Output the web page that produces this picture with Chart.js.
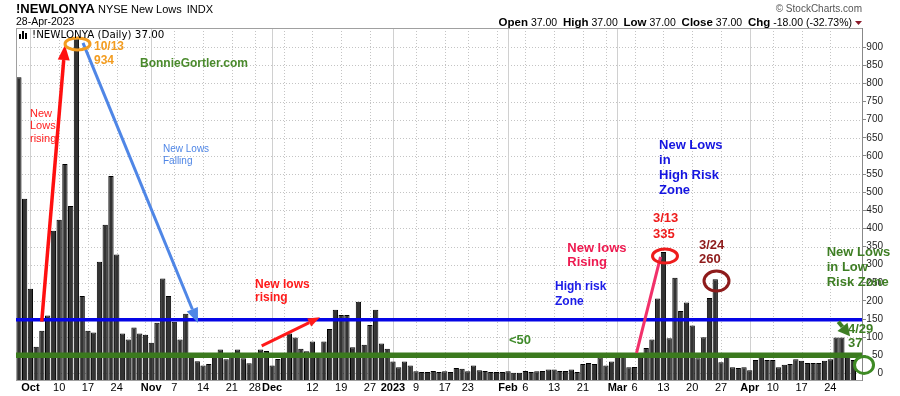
<!DOCTYPE html>
<html>
<head>
<meta charset="utf-8">
<title>!NEWLONYA NYSE New Lows</title>
<script src="https://cdn.jsdelivr.net/npm/chart.js"></script>
<style>
  html, body { margin: 0; padding: 0; background: #fff; }
  #wrap { width: 900px; height: 396px; }
</style>
</head>
<body>
<div id="wrap"><canvas id="chart" width="900" height="396"></canvas></div>
<script>
// NYSE new lows, daily, 29-Sep-2022 .. 28-Apr-2023
const symbol = '!NEWLONYA';
const title = 'NYSE New Lows';
const exchange = 'INDX';

// trading days per month: [year, month, days]
const tradingDays = [
    [2022, 9, [29, 30]],
    [2022, 10, [3, 4, 5, 6, 7, 10, 11, 12, 13, 14, 17, 18, 19, 20, 21, 24, 25, 26, 27, 28, 31]],
    [2022, 11, [1, 2, 3, 4, 7, 8, 9, 10, 11, 14, 15, 16, 17, 18, 21, 22, 23, 25, 28, 29, 30]],
    [2022, 12, [1, 2, 5, 6, 7, 8, 9, 12, 13, 14, 15, 16, 19, 20, 21, 22, 23, 27, 28, 29, 30]],
    [2023, 1, [3, 4, 5, 6, 9, 10, 11, 12, 13, 17, 18, 19, 20, 23, 24, 25, 26, 27, 30, 31]],
    [2023, 2, [1, 2, 3, 6, 7, 8, 9, 10, 13, 14, 15, 16, 17, 21, 22, 23, 24, 27, 28]],
    [2023, 3, [1, 2, 3, 6, 7, 8, 9, 10, 13, 14, 15, 16, 17, 20, 21, 22, 23, 24, 27, 28, 29, 30, 31]],
    [2023, 4, [3, 4, 5, 6, 10, 11, 12, 13, 14, 17, 18, 19, 20, 21, 24, 25, 26, 27, 28]]
];

const newLows = [
    // Sep
    817, 482,
    // Oct
    234, 74, 118, 160, 394, 424, 578, 462, 924, 214, 118, 113, 308, 410, 545, 328, 110, 94, 127, 110, 107,
    // Nov
    85, 140, 262, 214, 143, 94, 165, 48, 34, 22, 26, 48, 66, 39, 52, 66, 42, 28, 55, 66, 62,
    // Dec
    22, 40, 53, 110, 99, 68, 61, 88, 53, 88, 123, 176, 161, 161, 72, 198, 79, 134, 176, 83, 68,
    // Jan
    33, 17, 33, 22, 6, 4, 4, 7, 4, 6, 4, 15, 13, 6, 22, 9, 7, 4, 4, 4,
    // Feb
    6, 2, 2, 7, 4, 6, 7, 11, 11, 7, 7, 11, 4, 26, 29, 26, 44, 22, 33,
    // Mar
    48, 51, 17, 18, 55, 70, 94, 207, 335, 97, 264, 172, 196, 132, 42, 100, 208, 260, 31, 55, 17, 15, 17,
    // Apr
    9, 37, 46, 37, 37, 17, 24, 26, 39, 35, 29, 29, 29, 35, 39, 99, 99, 55, 37
];

const xTickDates = ['10/3', '10/10', '10/17', '10/24', '11/1', '11/7', '11/14', '11/21', '11/28', '12/1',
    '12/12', '12/19', '12/27', '1/3', '1/9', '1/17', '1/23', '2/1', '2/6', '2/13', '2/21',
    '3/1', '3/6', '3/13', '3/20', '3/27', '4/3', '4/10', '4/17', '4/24'];
const xTickLabels = ['Oct', '10', '17', '24', 'Nov', '7', '14', '21', '28', 'Dec',
    '12', '19', '27', '2023', '9', '17', '23', 'Feb', '6', '13', '21',
    'Mar', '6', '13', '20', '27', 'Apr', '10', '17', '24'];
const yTicks = [0, 50, 100, 150, 200, 250, 300, 350, 400, 450, 500, 550, 600, 650, 700, 750, 800, 850, 900];
const yMin = -18;
const yMax = 953;

// reference levels
const highRiskLevel = 148;
const lowRiskLevel = 50;

const FONT = '"Liberation Sans", Arial, sans-serif';
const font = (size, bold) => (bold ? 'bold ' : '') + size + 'px ' + FONT;

// dates, labels, week / month starts
const dates = [];
tradingDays.forEach(([yr, mo, days]) => days.forEach(d => dates.push(new Date(yr, mo - 1, d))));
const dateLabels = dates.map(d => (d.getMonth() + 1) + '/' + d.getDate());
const weekStarts = [];
const monthStarts = [];
dates.forEach((d, i) => {
    if (i === 0) return;
    const p = dates[i - 1];
    if (d.getMonth() !== p.getMonth()) monthStarts.push(i);
    else if (d.getDay() <= p.getDay()) weekStarts.push(i);
});
const xTickIdx = xTickDates.map(s => dateLabels.indexOf(s));
const isBold = t => isNaN(Number(t)) || t.length === 4;

// annotations, in data units: i = bar index, v = value
const notes = [
    { lines: ['New', 'Lows', 'rising'], i: 1.93, v: 716, lh: 12.5, font: font(11, false), color: '#ff2020' },
    { lines: ['10/13', '934'], i: 13.05, v: 901, lh: 14, font: font(12, true), color: '#f39c1f' },
    { lines: ['BonnieGortler.com'], i: 21.05, v: 855, lh: 0, font: font(12, true), color: '#4a8a2c' },
    { lines: ['New Lows', 'Falling'], i: 25.04, v: 619, lh: 11.7, font: font(10, false), color: '#4f86e6' },
    { lines: ['New lows', 'rising'], i: 41.03, v: 245, lh: 13.2, font: font(12, true), color: '#ff1a1a' },
    { lines: ['<50'], i: 85.16, v: 90, lh: 0, font: font(13, true), color: '#3f8a2a' },
    { lines: ['High risk', 'Zone'], i: 93.16, v: 239, lh: 14.6, font: font(12, true), color: '#1a1ae8' },
    { lines: ['New lows', 'Rising'], i: 95.29, v: 346, lh: 14, font: font(13, true), color: '#ee1a50' },
    { lines: ['3/13', '335'], i: 110.19, v: 427, lh: 15.3, font: font(13, true), color: '#ee1c1c' },
    { lines: ['3/24', '260'], i: 118.18, v: 354.5, lh: 14.2, font: font(13, true), color: '#8e1b1b' },
    { lines: ['New Lows', 'in', 'High Risk', 'Zone'], i: 111.23, v: 629.5, lh: 15, font: font(13, true), color: '#1414e0' },
    { lines: ['New Lows', 'in Low', 'Risk Zone'], i: 140.37, v: 333, lh: 14.6, font: font(13, true), color: '#3e7e24' },
    { lines: ['4/29', '37'], i: 144.07, v: 121.4, lh: 13.7, font: font(13, true), color: '#3e7e24' }
];

const arrows = [
    { from: [3.97, 143], to: [8.01, 906], color: '#ff1010', width: 3.5, head: 15, headW: 12 },
    { from: [11.14, 912], to: [31.13, 139], color: '#4f86e6', width: 3, head: 15, headW: 12 },
    { from: [42.19, 76], to: [52.32, 155], color: '#ff1a1a', width: 3, head: 12, headW: 9 },
    { from: [142.38, 143], to: [144.42, 103], color: '#3e7e24', width: 4, head: 12, headW: 13 }
];

const segments = [
    { from: [107.32, 56.6], to: [111.49, 321.4], color: '#f2306a', width: 3 }
];

const rings = [
    { at: [10.19, 909], rx: 12.5, ry: 6, color: '#f39c1f' },
    { at: [112.27, 324], rx: 12.5, ry: 7, color: '#ee1c1c' },
    { at: [121.22, 255], rx: 12.5, ry: 10, color: '#8e1b1b' },
    { at: [146.85, 23.4], rx: 9.5, ry: 8.5, color: '#3e8a24' }
];

function line(ctx, x1, y1, x2, y2) {
    ctx.beginPath();
    ctx.moveTo(x1, y1);
    ctx.lineTo(x2, y2);
    ctx.stroke();
}

const gridPlugin = {
    id: 'stockGrid',
    beforeDatasetsDraw(chart) {
        const { ctx, chartArea: a, scales: { x, y } } = chart;
        ctx.save();
        ctx.lineWidth = 1;
        ctx.strokeStyle = '#c4c4c4';
        ctx.setLineDash([1, 2]);
        yTicks.forEach(v => {
            const py = Math.round(y.getPixelForValue(v)) + 0.5;
            line(ctx, a.left, py, a.right, py);
        });
        weekStarts.forEach(i => {
            const px = Math.round(x.getPixelForValue(i)) + 0.5;
            line(ctx, px, a.top, px, a.bottom);
        });
        ctx.setLineDash([]);
        ctx.strokeStyle = '#d0d0d0';
        monthStarts.forEach(i => {
            const px = Math.round(x.getPixelForValue(i)) + 0.5;
            line(ctx, px, a.top, px, a.bottom);
        });
        ctx.restore();
    }
};

const overlayPlugin = {
    id: 'overlay',
    afterDraw(chart) {
        const { ctx, chartArea: a, scales: { x, y } } = chart;
        const P = ([i, v]) => [x.getPixelForValue(i), y.getPixelForValue(v)];
        const n = newLows.length;
        const close = newLows[n - 1];
        const prev = newLows[n - 2];
        const chg = close - prev;
        const last = dates[n - 1];
        const mon = ['Jan', 'Feb', 'Mar', 'Apr', 'May', 'Jun', 'Jul', 'Aug', 'Sep', 'Oct', 'Nov', 'Dec'];

        ctx.save();

        // frame
        ctx.strokeStyle = '#a0a0a0';
        ctx.lineWidth = 1;
        ctx.strokeRect(a.left + 0.5, a.top + 0.5, a.right - a.left, a.bottom - a.top);
        ctx.strokeStyle = '#888';
        line(ctx, a.right + 0.5, a.top, a.right + 0.5, a.bottom + 1);

        // level lines
        ctx.strokeStyle = '#0505e6';
        ctx.lineWidth = 3.5;
        let py = y.getPixelForValue(highRiskLevel);
        line(ctx, a.left, py, a.right, py);
        ctx.strokeStyle = '#3b7a1e';
        ctx.lineWidth = 5.5;
        py = y.getPixelForValue(lowRiskLevel);
        line(ctx, a.left, py, a.right, py);

        // straight segments
        segments.forEach(s => {
            const [x1, y1] = P(s.from);
            const [x2, y2] = P(s.to);
            ctx.strokeStyle = s.color;
            ctx.lineWidth = s.width;
            line(ctx, x1, y1, x2, y2);
        });

        // arrows
        arrows.forEach(s => {
            const [x1, y1] = P(s.from);
            const [x2, y2] = P(s.to);
            const ang = Math.atan2(y2 - y1, x2 - x1);
            const bx = x2 - Math.cos(ang) * s.head;
            const by = y2 - Math.sin(ang) * s.head;
            ctx.strokeStyle = s.color;
            ctx.fillStyle = s.color;
            ctx.lineWidth = s.width;
            line(ctx, x1, y1, bx, by);
            const nx = -Math.sin(ang) * s.headW / 2;
            const ny = Math.cos(ang) * s.headW / 2;
            ctx.beginPath();
            ctx.moveTo(x2, y2);
            ctx.lineTo(bx + nx, by + ny);
            ctx.lineTo(bx - nx, by - ny);
            ctx.closePath();
            ctx.fill();
        });

        // rings
        ctx.lineWidth = 3;
        rings.forEach(r => {
            const [cx, cy] = P(r.at);
            ctx.strokeStyle = r.color;
            ctx.beginPath();
            ctx.ellipse(cx, cy, r.rx, r.ry, 0, 0, Math.PI * 2);
            ctx.stroke();
        });

        // notes
        ctx.textAlign = 'left';
        ctx.textBaseline = 'middle';
        notes.forEach(t => {
            const [tx, ty] = P([t.i, t.v]);
            ctx.font = t.font;
            ctx.fillStyle = t.color;
            t.lines.forEach((s, k) => ctx.fillText(s, tx, ty + k * t.lh));
        });

        // legend inside plot
        ctx.fillStyle = '#000';
        ctx.fillRect(19, 34, 2, 5);
        ctx.fillRect(22, 31, 2, 8);
        ctx.fillRect(25, 33, 2, 6);
        ctx.font = '10.3px "DejaVu Sans", sans-serif';
        ctx.fillText(symbol + ' (Daily) ' + close.toFixed(2), 32, 35.5);

        // header, left
        ctx.font = font(13, true);
        ctx.fillText(symbol, 16, 9.5);
        let hx = 16 + ctx.measureText(symbol).width + 3;
        ctx.font = font(11, false);
        ctx.fillText(title, hx, 10);
        hx += ctx.measureText(title).width + 5;
        ctx.fillText(exchange, hx, 10);
        ctx.font = font(10.5, false);
        const stamp = String(last.getDate()).padStart(2, '0') + '-' + mon[last.getMonth()] + '-' + last.getFullYear();
        ctx.fillText(stamp, 16, 22.5);

        // header, right
        const v = close.toFixed(2);
        const pct = (chg / prev * 100).toFixed(2);
        const parts = [
            ['Open', true], [' ' + v + '  ', false], ['High', true], [' ' + v + '  ', false],
            ['Low', true], [' ' + v + '  ', false], ['Close', true], [' ' + v + '  ', false],
            ['Chg', true], [' ' + chg.toFixed(2) + ' (' + pct + '%)', false]
        ];
        const fb = font(11.5, true);
        const fr = font(10.5, false);
        let total = 0;
        parts.forEach(([s, b]) => { ctx.font = b ? fb : fr; total += ctx.measureText(s).width; });
        let rx = 852 - total;
        parts.forEach(([s, b]) => {
            ctx.font = b ? fb : fr;
            ctx.fillText(s, rx, 23);
            rx += ctx.measureText(s).width;
        });
        ctx.fillStyle = '#8b1a2a';
        ctx.beginPath();
        ctx.moveTo(855, 21);
        ctx.lineTo(862, 21);
        ctx.lineTo(858.5, 25);
        ctx.closePath();
        ctx.fill();

        ctx.fillStyle = '#555';
        ctx.font = font(10, false);
        ctx.textAlign = 'right';
        ctx.fillText('\u00A9 StockCharts.com', 862, 9.5);

        ctx.restore();
    }
};

new Chart(document.getElementById('chart'), {
    type: 'bar',
    data: {
        labels: [...dateLabels, ''],
        datasets: [{
            label: symbol,
            data: newLows,
            backgroundColor: '#333',
            borderColor: '#000',
            borderWidth: 1,
            barPercentage: 0.92,
            categoryPercentage: 1,
            base: yMin
        }]
    },
    options: {
        responsive: false,
        animation: false,
        devicePixelRatio: 1,
        layout: {
            padding: { left: 16, top: 28, right: 17, bottom: 0 }
        },
        plugins: {
            legend: { display: false },
            tooltip: { enabled: false }
        },
        scales: {
            x: {
                offset: true,
                grid: { display: false, drawTicks: false },
                border: { display: false },
                afterFit: s => { s.height = 16; },
                afterBuildTicks: s => { s.ticks = xTickIdx.map(i => ({ value: i })); },
                ticks: {
                    autoSkip: false,
                    maxRotation: 0,
                    minRotation: 0,
                    padding: 1,
                    color: '#000',
                    callback: (val, k) => xTickLabels[k],
                    font: c => ({ family: FONT, size: 11, weight: isBold(xTickLabels[c.index] || '') ? 'bold' : 'normal' })
                }
            },
            y: {
                position: 'right',
                min: yMin,
                max: yMax,
                grid: { drawOnChartArea: false, drawTicks: true, tickLength: 4, color: '#888' },
                border: { display: false },
                afterFit: s => { s.width = 21; },
                afterBuildTicks: s => { s.ticks = yTicks.map(v => ({ value: v })); },
                ticks: {
                    padding: 0,
                    crossAlign: 'far',
                    color: '#222',
                    font: { family: FONT, size: 10 }
                }
            }
        }
    },
    plugins: [gridPlugin, overlayPlugin]
});
</script>
</body>
</html>
